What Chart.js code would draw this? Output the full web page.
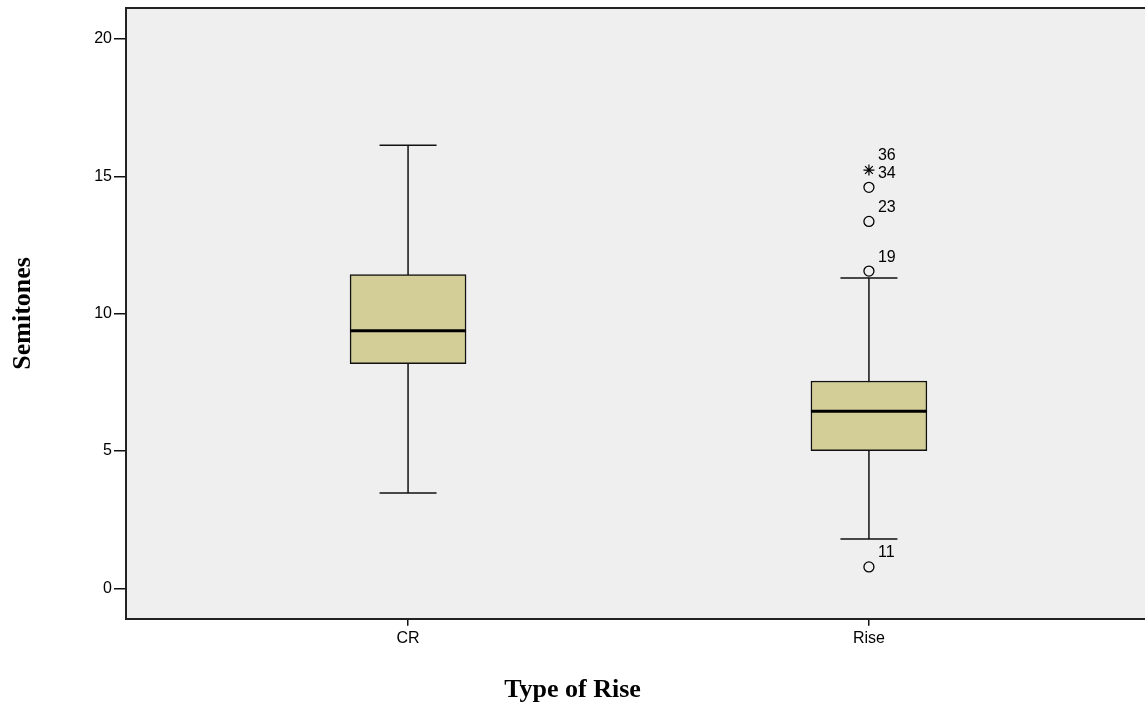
<!DOCTYPE html>
<html lang="en">
<head>
    <meta charset="UTF-8">
    <title>Semitones by Type of Rise</title>
    <script src="https://cdn.jsdelivr.net/npm/chart.js"></script>
    <style>
        body {
            margin: 0;
            padding: 0;
            background: #ffffff;
            overflow: hidden;
        }
        .chart-box {
            width: 1145px;
            height: 706px;
        }
    </style>
</head>
<body>
    <div class="chart-box">
        <canvas id="boxChart"></canvas>
    </div>

    <script>
        // Box plot summary
        const categories = ['CR', 'Rise'];
        const whiskerLow = [3.47, 1.80];
        const q1 = [8.18, 5.01];
        const median = [9.38, 6.45];
        const q3 = [11.42, 7.55];
        const whiskerHigh = [16.13, 11.30];

        // Outliers (circles) and extremes (stars), with their case numbers
        const outlierCategory = ['Rise', 'Rise', 'Rise', 'Rise'];
        const outlierValues = [11.55, 13.36, 14.60, 0.78];
        const outlierLabels = ['19', '23', '34', '11'];
        const extremeCategory = ['Rise'];
        const extremeValues = [15.23];
        const extremeLabels = ['36'];

        const yTicks = [0, 5, 10, 15, 20];

        const catX = name => categories.indexOf(name) + 1;

        // plot background, top frame line and case labels
        const framePlugin = {
            id: 'frame',
            beforeDraw(chart) {
                const { ctx, chartArea: a } = chart;
                ctx.save();
                ctx.fillStyle = '#efefef';
                ctx.fillRect(a.left, a.top, a.right - a.left, a.bottom - a.top);
                ctx.strokeStyle = '#222';
                ctx.lineWidth = 2;
                ctx.beginPath();
                ctx.moveTo(a.left, a.top);
                ctx.lineTo(a.right, a.top);
                ctx.stroke();
                ctx.restore();
            },
            afterDatasetsDraw(chart) {
                const { ctx, scales } = chart;
                ctx.save();
                ctx.fillStyle = '#000';
                ctx.font = '16px "Liberation Sans", Arial, sans-serif';
                ctx.textBaseline = 'middle';
                ctx.textAlign = 'left';
                const put = (cats, vals, labels) => {
                    vals.forEach((v, i) => {
                        const px = scales.x.getPixelForValue(catX(cats[i]));
                        const py = scales.y.getPixelForValue(v);
                        ctx.fillText(labels[i], px + 9, py - 14);
                    });
                };
                put(outlierCategory, outlierValues, outlierLabels);
                put(extremeCategory, extremeValues, extremeLabels);
                ctx.restore();
            }
        };

        const whiskerSets = categories.map((c, i) => ({
            type: 'scatter',
            showLine: true,
            data: [{ x: i + 1, y: whiskerLow[i] }, { x: i + 1, y: whiskerHigh[i] }],
            borderColor: '#111',
            borderWidth: 1.5,
            pointRadius: 0,
            order: 5
        }));

        new Chart(document.getElementById('boxChart'), {
            type: 'bar',
            data: {
                datasets: [
                    ...whiskerSets,
                    {
                        type: 'bar',
                        data: categories.map((c, i) => ({ x: i + 1, y: [q1[i], q3[i]] })),
                        backgroundColor: '#d3ce97',
                        borderColor: '#111',
                        borderWidth: 1.5,
                        borderSkipped: false,
                        barThickness: 116,
                        grouped: false,
                        order: 4
                    },
                    {
                        type: 'scatter',
                        data: categories.map((c, i) => ({ x: i + 1, y: median[i] })),
                        pointStyle: 'line',
                        pointRadius: 58,
                        pointBorderColor: '#000',
                        pointBorderWidth: 3,
                        order: 2
                    },
                    {
                        type: 'scatter',
                        data: categories.flatMap((c, i) => [
                            { x: i + 1, y: whiskerLow[i] },
                            { x: i + 1, y: whiskerHigh[i] }
                        ]),
                        pointStyle: 'line',
                        pointRadius: 28.5,
                        pointBorderColor: '#111',
                        pointBorderWidth: 1.5,
                        order: 3
                    },
                    {
                        type: 'scatter',
                        data: outlierValues.map((v, i) => ({ x: catX(outlierCategory[i]), y: v })),
                        pointStyle: 'circle',
                        pointRadius: 5,
                        pointBackgroundColor: 'rgba(0,0,0,0)',
                        pointBorderColor: '#000',
                        pointBorderWidth: 1.3,
                        order: 1
                    },
                    {
                        type: 'scatter',
                        data: extremeValues.map((v, i) => ({ x: catX(extremeCategory[i]), y: v })),
                        pointStyle: 'star',
                        pointRadius: 5.5,
                        pointBorderColor: '#000',
                        pointBorderWidth: 1.2,
                        order: 1
                    }
                ]
            },
            options: {
                responsive: true,
                maintainAspectRatio: false,
                animation: false,
                layout: { autoPadding: false, padding: { top: 8, left: 0, right: 0, bottom: 0 } },
                plugins: {
                    legend: { display: false },
                    tooltip: { enabled: false },
                    title: {
                        display: true,
                        position: 'bottom',
                        text: 'Type of Rise',
                        color: '#000',
                        font: { family: '"Liberation Serif", "Times New Roman", serif', size: 26, weight: 'bold' },
                        padding: { top: 0, bottom: 0 }
                    }
                },
                scales: {
                    x: {
                        type: 'linear',
                        min: 0.388,
                        max: 2.599,
                        offset: false,
                        afterFit: axis => {
                            axis.height = 56;
                            axis.paddingLeft = 0;
                            axis.paddingRight = 0;
                        },
                        afterBuildTicks: axis => {
                            axis.ticks = categories.map((c, i) => ({ value: i + 1 }));
                        },
                        ticks: {
                            color: '#000',
                            padding: 3,
                            font: { family: '"Liberation Sans", Arial, sans-serif', size: 16 },
                            callback: v => categories[v - 1]
                        },
                        grid: { offset: false, drawOnChartArea: false, tickLength: 7, color: '#111', lineWidth: 1.5 },
                        border: { display: true, color: '#222', width: 2 }
                    },
                    y: {
                        min: -1.11,
                        max: 21.13,
                        afterFit: axis => {
                            axis.width = 126;
                            axis.paddingTop = 0;
                            axis.paddingBottom = 0;
                        },
                        afterBuildTicks: axis => {
                            axis.ticks = yTicks.map(v => ({ value: v }));
                        },
                        ticks: {
                            color: '#000',
                            padding: 2,
                            font: { family: '"Liberation Sans", Arial, sans-serif', size: 16 }
                        },
                        grid: { drawOnChartArea: false, tickLength: 12, color: '#111', lineWidth: 1.5 },
                        border: { display: true, color: '#222', width: 2 },
                        title: {
                            display: true,
                            text: 'Semitones',
                            color: '#000',
                            font: { family: '"Liberation Serif", "Times New Roman", serif', size: 26, weight: 'bold' },
                            padding: { top: 8, bottom: 0 }
                        }
                    }
                }
            },
            plugins: [framePlugin]
        });
    </script>
</body>
</html>
